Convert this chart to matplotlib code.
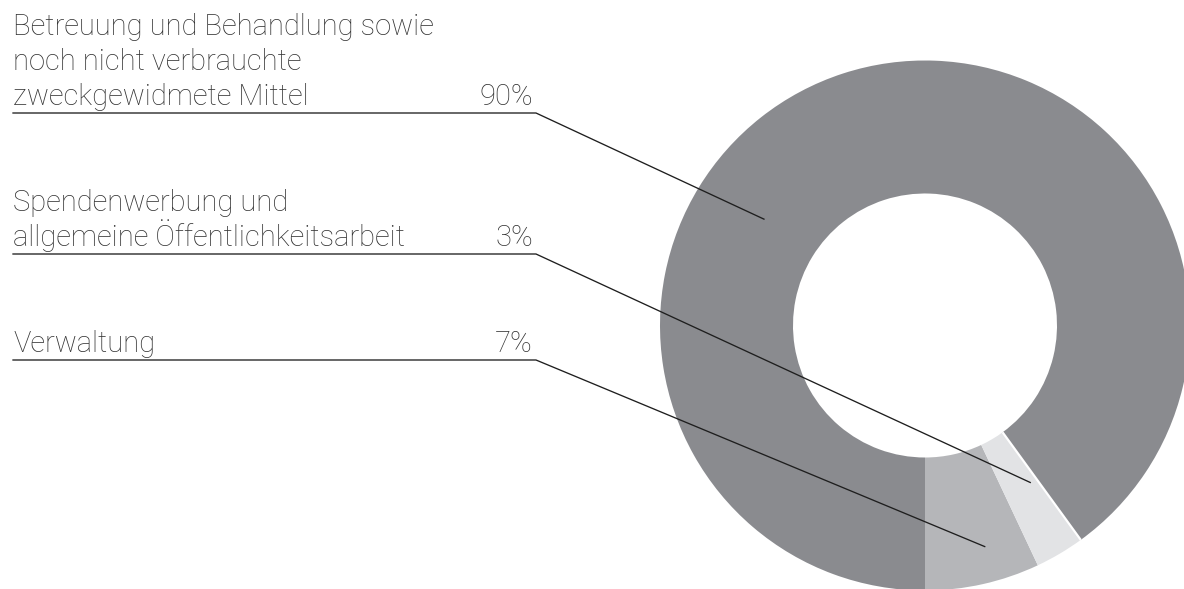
import numpy as np
import matplotlib
matplotlib.use("Agg")
import matplotlib.pyplot as plt

# Spending shares (percent), in drawing order starting at six o'clock
categories = [
    "Verwaltung",
    "Spendenwerbung und\nallgemeine Öffentlichkeitsarbeit",
    "Betreuung und Behandlung sowie\nnoch nicht verbrauchte\nzweckgewidmete Mittel",
]
shares = [7, 3, 90]
share_labels = ["7%", "3%", "90%"]
colors = ["#b5b6b9", "#e2e3e5", "#8a8b8f"]

W, H = 1184, 589
fig = plt.figure(figsize=(W / 100, H / 100), dpi=100)
ax = fig.add_axes([0, 0, 1, 1])

cx, cy = 925, H - 325.5
r_out, r_in = 265, 132

wedges, _ = ax.pie(
    shares, colors=colors, radius=r_out, center=(cx, cy),
    startangle=270, counterclock=True,
    wedgeprops=dict(width=r_out - r_in, linewidth=0),
)

# white gap between the small light slice and the large slice
th = np.deg2rad(wedges[2].theta1)
ax.plot([cx + r_in * np.cos(th), cx + r_out * np.cos(th)],
        [cy + r_in * np.sin(th), cy + r_out * np.sin(th)],
        color="white", lw=1.6, solid_capstyle="butt", zorder=3)

ax.set_xlim(0, W)
ax.set_ylim(0, H)
ax.set_aspect("equal")
ax.axis("off")

# label blocks: last text baseline, underline position (pixels from top)
label_baselines = [352, 246, 105]
underline_y = [360, 254, 113]
# connector end points: position inside each slice (fraction of sweep, radius)
anchor_frac = [0.6, 0.8, 0.619]
anchor_rad = [229, 189, 193]

text_kw = dict(fontsize=21, family="Roboto", fontweight="light", color="#333333")
line_h = 35
x_left, x_right = 13, 536

for i, (cat, pct) in enumerate(zip(categories, share_labels)):
    lines = cat.split("\n")
    n = len(lines)
    for k, ln in enumerate(lines):
        yb = label_baselines[i] - (n - 1 - k) * line_h
        ax.text(x_left, H - yb, ln, ha="left", va="baseline", **text_kw)
    ax.text(x_right - 3, H - label_baselines[i], pct, ha="right", va="baseline", **text_kw)
    yu = H - underline_y[i]
    w = wedges[i]
    a = np.deg2rad(w.theta1 + anchor_frac[i] * (w.theta2 - w.theta1))
    ex, ey = cx + anchor_rad[i] * np.cos(a), cy + anchor_rad[i] * np.sin(a)
    ax.plot([x_left, x_right, ex], [yu, yu, ey], color="#1e1e1e", lw=0.95,
            solid_joinstyle="miter", zorder=4)

fig.savefig("out.png", dpi=100, facecolor="white")
